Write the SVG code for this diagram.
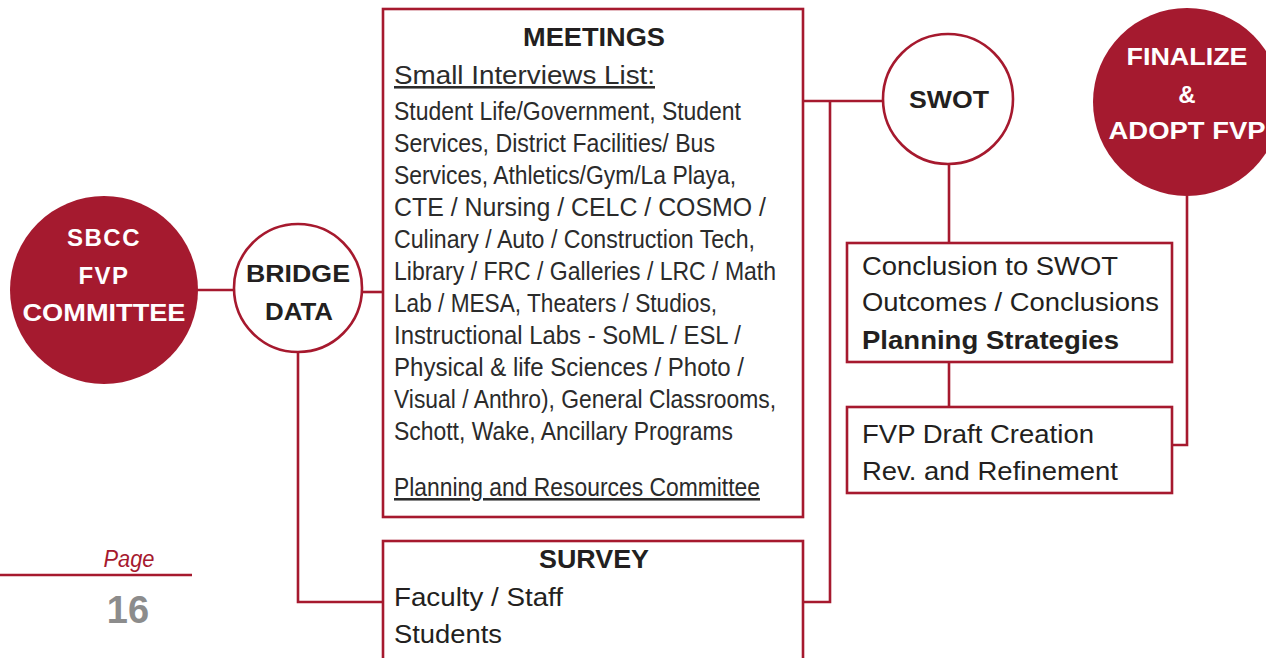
<svg xmlns="http://www.w3.org/2000/svg" width="1266" height="658" viewBox="0 0 1266 658">
<style>
.bg{fill:#ffffff}
.box{fill:#ffffff;stroke:#A6192E;stroke-width:2.6}
.oc{fill:#ffffff;stroke:#A6192E;stroke-width:2.6}
.fc{fill:#A51A2F;stroke:none}
.conn{fill:none;stroke:#A6192E;stroke-width:2.6}
.t{font-family:"Liberation Sans",Arial,sans-serif;fill:#231F20}
.b{font-weight:bold}
.w{fill:#ffffff}
.list{font-family:"Liberation Sans Narrow","Liberation Sans",Arial,sans-serif;fill:#2b2b2b;font-size:25.5px}
.u{text-decoration:underline}
</style>
<rect class="bg" x="0" y="0" width="1266" height="658"/>
<g id="connectors">
<path class="conn" d="M197,290 H234"/>
<path class="conn" d="M362,292 H384"/>
<path class="conn" d="M298,353 V602 H384"/>
<path class="conn" d="M803,101 H884"/>
<path class="conn" d="M830,101 V602 H803"/>
<path class="conn" d="M949,164 V243"/>
<path class="conn" d="M949,362 V407"/>
<path class="conn" d="M1187,196 V445 H1172"/>
</g>
<g id="sbcc">
<circle class="fc" cx="104" cy="290" r="94"/>
<text class="t b w" x="104" y="246" font-size="24" text-anchor="middle" letter-spacing="1.5">SBCC</text>
<text class="t b w" x="104" y="284" font-size="24" text-anchor="middle" letter-spacing="1.5">FVP</text>
<text class="t b w" x="104" y="321" font-size="24" text-anchor="middle" textLength="163" lengthAdjust="spacingAndGlyphs">COMMITTEE</text>
</g>
<g id="bridge">
<circle class="oc" cx="298" cy="288" r="64"/>
<text class="t b" x="298" y="282" font-size="24" text-anchor="middle" textLength="104" lengthAdjust="spacingAndGlyphs">BRIDGE</text>
<text class="t b" x="299" y="320" font-size="24" text-anchor="middle" textLength="68" lengthAdjust="spacingAndGlyphs">DATA</text>
</g>
<g id="meetings">
<rect class="box" x="383" y="9" width="420" height="508"/>
<text class="t b" x="594" y="46" font-size="25" text-anchor="middle" textLength="142" lengthAdjust="spacingAndGlyphs">MEETINGS</text>
<text class="list u" x="394" y="84" font-size="26" textLength="261" lengthAdjust="spacingAndGlyphs">Small Interviews List:</text>
<text class="list" x="394" y="120" textLength="347" lengthAdjust="spacingAndGlyphs">Student Life/Government, Student</text>
<text class="list" x="394" y="152" textLength="321" lengthAdjust="spacingAndGlyphs">Services, District Facilities/ Bus</text>
<text class="list" x="394" y="184" textLength="342" lengthAdjust="spacingAndGlyphs">Services, Athletics/Gym/La Playa,</text>
<text class="list" x="394" y="216" textLength="372" lengthAdjust="spacingAndGlyphs">CTE / Nursing / CELC / COSMO /</text>
<text class="list" x="394" y="248" textLength="361" lengthAdjust="spacingAndGlyphs">Culinary / Auto / Construction Tech,</text>
<text class="list" x="394" y="280" textLength="382" lengthAdjust="spacingAndGlyphs">Library / FRC / Galleries / LRC / Math</text>
<text class="list" x="394" y="312" textLength="323" lengthAdjust="spacingAndGlyphs">Lab / MESA, Theaters / Studios,</text>
<text class="list" x="394" y="344" textLength="347" lengthAdjust="spacingAndGlyphs">Instructional Labs - SoML / ESL /</text>
<text class="list" x="394" y="376" textLength="350" lengthAdjust="spacingAndGlyphs">Physical &amp; life Sciences / Photo /</text>
<text class="list" x="394" y="408" textLength="382" lengthAdjust="spacingAndGlyphs">Visual / Anthro), General Classrooms,</text>
<text class="list" x="394" y="440" textLength="339" lengthAdjust="spacingAndGlyphs">Schott, Wake, Ancillary Programs</text>
<text class="list u" x="394" y="496" textLength="366" lengthAdjust="spacingAndGlyphs">Planning and Resources Committee</text>
</g>
<g id="survey">
<rect class="box" x="383" y="541" width="420" height="130"/>
<text class="t b" x="594" y="568" font-size="25" text-anchor="middle" textLength="110" lengthAdjust="spacingAndGlyphs">SURVEY</text>
<text class="t" x="394" y="606" font-size="25" textLength="169" lengthAdjust="spacingAndGlyphs">Faculty / Staff</text>
<text class="t" x="394" y="643" font-size="25" textLength="108" lengthAdjust="spacingAndGlyphs">Students</text>
</g>
<g id="swot">
<circle class="oc" cx="948" cy="99" r="65"/>
<text class="t b" x="949" y="108" font-size="24" text-anchor="middle" textLength="80" lengthAdjust="spacingAndGlyphs">SWOT</text>
</g>
<g id="conclusion">
<rect class="box" x="847" y="243" width="325" height="119"/>
<text class="t" x="862" y="275" font-size="25" textLength="256" lengthAdjust="spacingAndGlyphs">Conclusion to SWOT</text>
<text class="t" x="862" y="311" font-size="25" textLength="297" lengthAdjust="spacingAndGlyphs">Outcomes / Conclusions</text>
<text class="t b" x="862" y="349" font-size="25" textLength="257" lengthAdjust="spacingAndGlyphs">Planning Strategies</text>
</g>
<g id="draft">
<rect class="box" x="847" y="407" width="325" height="86"/>
<text class="t" x="862" y="443" font-size="25" textLength="232" lengthAdjust="spacingAndGlyphs">FVP Draft Creation</text>
<text class="t" x="862" y="480" font-size="25" textLength="256" lengthAdjust="spacingAndGlyphs">Rev. and Refinement</text>
</g>
<g id="finalize">
<circle class="fc" cx="1187" cy="102" r="94"/>
<text class="t b w" x="1187" y="65" font-size="24" text-anchor="middle" textLength="121" lengthAdjust="spacingAndGlyphs">FINALIZE</text>
<text class="t b w" x="1187" y="103" font-size="24" text-anchor="middle">&amp;</text>
<text class="t b w" x="1187" y="139" font-size="24" text-anchor="middle" textLength="157" lengthAdjust="spacingAndGlyphs">ADOPT FVP</text>
</g>
<g id="page">
<text x="129" y="567" font-family="'Liberation Sans',Arial,sans-serif" font-style="italic" font-size="23" fill="#A6192E" text-anchor="middle" textLength="51" lengthAdjust="spacingAndGlyphs">Page</text>
<line x1="0" y1="575" x2="192" y2="575" stroke="#A6192E" stroke-width="2.6"/>
<text x="128" y="623" font-family="'Liberation Sans',Arial,sans-serif" font-weight="bold" font-size="38" fill="#8C8C8C" text-anchor="middle">16</text>
</g>
</svg>
